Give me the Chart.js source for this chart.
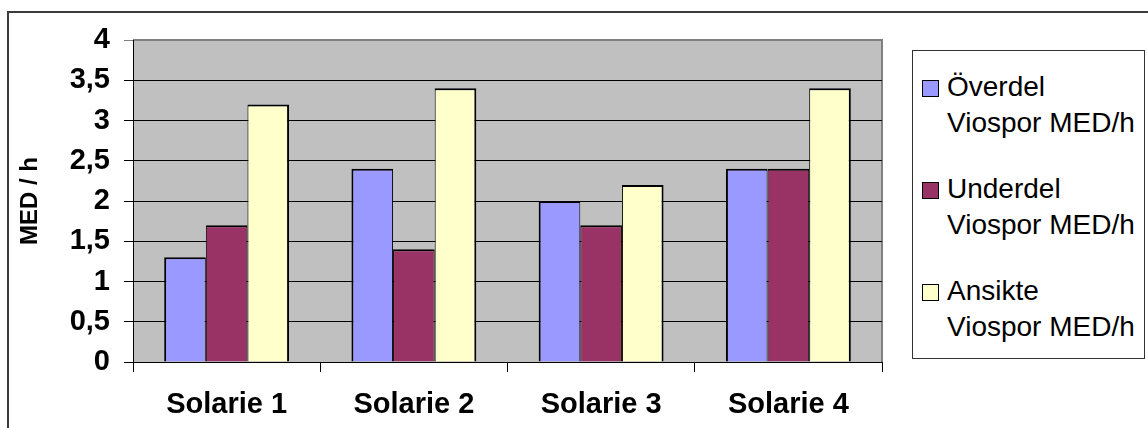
<!DOCTYPE html>
<html>
<head>
<meta charset="utf-8">
<script src="https://cdn.jsdelivr.net/npm/chart.js@4/dist/chart.umd.min.js"></script>
<style>
  html, body { margin: 0; padding: 0; background: #fff; overflow: hidden; }
  #wrap { position: relative; width: 1148px; height: 428px; overflow: hidden; }
  #frame {
    position: absolute; left: 7px; top: 11px; width: 1200px; height: 500px;
    border: 2px solid #3c3c3c; box-sizing: border-box;
  }
  #chart { position: absolute; left: 0; top: 0; }
  #legend {
    position: absolute; left: 912px; top: 50px; width: 233px; height: 309px;
    border: 1px solid #333; box-sizing: border-box; background: #fff;
    font-family: "Liberation Sans", Arial, sans-serif; font-size: 28px; line-height: 36px; color: #000;
  }
  .item { position: absolute; left: 0; }
  .swatch {
    position: absolute; left: 9px; top: 11px; width: 17px; height: 17px;
    border: 1px solid #000; box-sizing: border-box;
  }
  .text { position: absolute; left: 34px; white-space: nowrap; }
</style>
</head>
<body>
<div id="wrap">
  <div id="frame"></div>
  <canvas id="chart" width="1148" height="428"></canvas>
  <div id="legend"></div>
</div>
<script>
/* MED/h per solarium, three body zones */
const categories = ["Solarie 1", "Solarie 2", "Solarie 3", "Solarie 4"];
const overdel  = [1.3, 2.4, 2.0, 2.4];
const underdel = [1.7, 1.4, 1.7, 2.4];
const ansikte  = [3.2, 3.4, 2.2, 3.4];
const seriesLines = [
    ["Överdel", "Viospor MED/h"],
    ["Underdel", "Viospor MED/h"],
    ["Ansikte", "Viospor MED/h"]
];
const seriesColors = ["#9999ff", "#993366", "#ffffcc"];
const yTickLabels = ["0", "0,5", "1", "1,5", "2", "2,5", "3", "3,5", "4"];

const FONT = "'Liberation Sans', Arial, sans-serif";

// grey plot background + grey frame on top/right
const plotBg = {
    id: "plotBg",
    beforeDraw(chart) {
        const { ctx, chartArea: a } = chart;
        ctx.save();
        ctx.fillStyle = "#c0c0c0";
        ctx.fillRect(a.left, a.top, a.right - a.left, a.bottom - a.top);
        ctx.strokeStyle = "#808080";
        ctx.lineWidth = 2;
        ctx.beginPath();
        ctx.moveTo(a.left, a.top);
        ctx.lineTo(a.right, a.top);
        ctx.lineTo(a.right, a.bottom);
        ctx.stroke();
        ctx.restore();
    }
};

// bars touch each other, so only outer edges get the full border
const borders = [
    { left: 2, right: 1, top: 2, bottom: 0 },
    { left: 1, right: 1, top: 2, bottom: 0 },
    { left: 1, right: 2, top: 2, bottom: 0 }
];

const values = [overdel, underdel, ansikte];
const datasets = values.map((v, i) => ({
    label: seriesLines[i].join(" "),
    data: v,
    backgroundColor: seriesColors[i],
    borderColor: "#000",
    borderWidth: borders[i],
    borderSkipped: false,
    barPercentage: 1,
    categoryPercentage: 0.667
}));

new Chart(document.getElementById("chart"), {
    type: "bar",
    data: { labels: categories, datasets },
    options: {
        responsive: false,
        animation: false,
        layout: { padding: { left: 8, top: 40, right: 266, bottom: 0 } },
        plugins: { legend: { display: false }, tooltip: { enabled: false } },
        scales: {
            x: {
                afterFit(s) { s.height = 66; },
                grid: {
                    offset: true, drawOnChartArea: false, drawTicks: true,
                    tickLength: 10, color: "#000", lineWidth: 1
                },
                border: { color: "#000", width: 1 },
                ticks: { color: "#000", padding: 16, font: { family: FONT, size: 29, weight: "bold" } }
            },
            y: {
                min: 0, max: 4,
                afterFit(s) { s.width = 125; },
                grid: {
                    color: ctx => (ctx.tick && ctx.tick.value === 4 ? "#808080" : "#000"),
                    lineWidth: 1, tickLength: 9
                },
                border: { color: "#000", width: 1 },
                ticks: {
                    stepSize: 0.5, padding: 14, color: "#000",
                    font: { family: FONT, size: 29, weight: "bold" },
                    callback: (val, i) => yTickLabels[i]
                },
                title: {
                    display: true, text: "MED / h", color: "#000",
                    padding: { top: 8, bottom: 0 },
                    font: { family: FONT, size: 24, weight: "bold", lineHeight: 1.2 }
                }
            }
        }
    },
    plugins: [plotBg]
});

// two-line legend entries on the right
const legendEl = document.getElementById("legend");
seriesLines.forEach((lines, i) => {
    const item = document.createElement("div");
    item.className = "item";
    item.style.top = (18 + i * 102) + "px";
    item.innerHTML =
        `<div class="swatch" style="background:${seriesColors[i]}"></div>` +
        `<div class="text">${lines.join("<br>")}</div>`;
    legendEl.appendChild(item);
});
</script>
</body>
</html>
